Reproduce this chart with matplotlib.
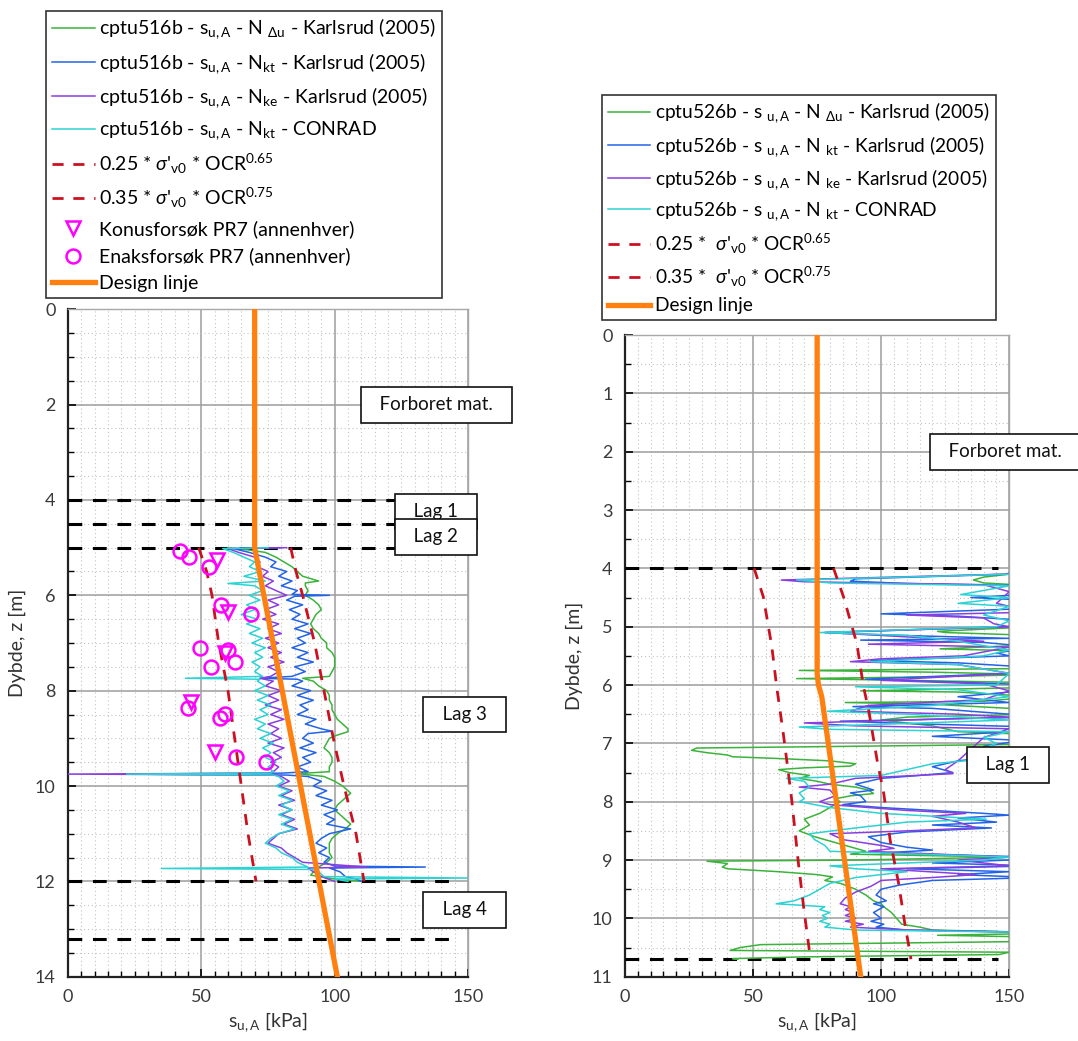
import numpy as np
import matplotlib
matplotlib.use('Agg')
import matplotlib.pyplot as plt

plt.rcParams['font.family'] = ['Lato', 'DejaVu Sans']
plt.rcParams['mathtext.fontset'] = 'custom'
plt.rcParams['mathtext.rm'] = 'Lato'
plt.rcParams['mathtext.it'] = 'Lato:italic'
plt.rcParams['mathtext.default'] = 'regular'

# ---------------- LEFT: cptu516b ----------------
L_green_z = [5.0, 5.05, 5.1, 5.2, 5.3, 5.4, 5.5, 5.6, 5.7, 5.74, 5.8, 5.9, 6.0, 6.1, 6.2, 6.3, 6.4, 6.5,
             6.6, 6.7, 6.8, 6.9, 7.0, 7.1, 7.2, 7.3, 7.4, 7.5, 7.6, 7.7, 7.74, 7.8, 7.9, 8.0, 8.1, 8.2,
             8.3, 8.4, 8.5, 8.6, 8.7, 8.8, 8.86, 8.95, 9.0, 9.1, 9.2, 9.3, 9.4, 9.5, 9.6, 9.7, 9.74,
             9.8, 9.9, 10.0, 10.1, 10.15, 10.2, 10.3, 10.4, 10.5, 10.6, 10.7, 10.8, 10.9, 11.0, 11.1,
             11.2, 11.3, 11.4, 11.5, 11.6, 11.7, 11.8, 11.87, 11.95, 12.0]
L_green_x = [60, 68, 74, 78, 81, 84, 86, 88, 94, 89, 89, 90, 89, 92, 94, 95, 93, 92,
             91, 92, 94, 95, 97, 97, 99, 100, 100, 100, 99, 98, 88, 92, 94, 97, 98, 98,
             99, 99, 100, 101, 103, 105, 105, 100, 98, 97, 96, 98, 99, 99, 98, 98, 86,
             96, 100, 103, 105, 106, 105, 103, 101, 100, 102, 104, 106, 104, 101, 99,
             98, 98, 98, 99, 97, 94, 92, 91, 100, 110]

L_blue_z = [5.0, 5.02, 5.1, 5.2, 5.3, 5.4, 5.5, 5.6, 5.7, 5.8, 5.9, 5.98, 6.0, 6.02, 6.1, 6.2, 6.3,
            6.4, 6.5, 6.6, 6.7, 6.8, 6.9, 7.0, 7.1, 7.2, 7.3, 7.4, 7.5, 7.6, 7.7, 7.74, 7.76, 7.8,
            7.9, 8.0, 8.1, 8.2, 8.3, 8.4, 8.5, 8.6, 8.7, 8.8, 8.85, 8.9, 9.0, 9.1, 9.2, 9.3, 9.4,
            9.5, 9.6, 9.7, 9.73, 9.75, 9.77, 9.8, 9.9, 10.0, 10.1, 10.2, 10.3, 10.4, 10.5, 10.6,
            10.7, 10.8, 10.9, 11.0, 11.1, 11.2, 11.3, 11.4, 11.5, 11.6, 11.68, 11.7, 11.72, 11.8,
            11.9, 11.95, 12.0]
L_blue_x = [80, 62, 68, 74, 78, 76, 82, 79, 84, 80, 86, 84, 98, 85, 82, 88, 83,
            87, 84, 90, 85, 91, 86, 89, 84, 90, 86, 92, 85, 89, 84, 72, 86, 88,
            84, 91, 86, 92, 87, 90, 86, 93, 89, 95, 99, 90, 88, 92, 87, 93, 88,
            91, 86, 90, 80, 20, 82, 90, 95, 92, 97, 93, 99, 95, 101, 96,
            100, 97, 106, 98, 95, 93, 97, 94, 98, 96, 100, 134, 98, 102,
            104, 108, 110]

L_purple_z = [5.0, 5.02, 5.1, 5.2, 5.3, 5.4, 5.5, 5.6, 5.7, 5.8, 5.9, 6.0, 6.1, 6.2, 6.3, 6.4,
              6.5, 6.6, 6.7, 6.8, 6.9, 7.0, 7.1, 7.2, 7.3, 7.4, 7.5, 7.6, 7.7, 7.74, 7.8, 7.9,
              8.0, 8.1, 8.2, 8.3, 8.4, 8.5, 8.6, 8.7, 8.8, 8.9, 9.0, 9.1, 9.2, 9.3, 9.4, 9.5,
              9.6, 9.7, 9.73, 9.75, 9.77, 9.8, 9.9, 10.0, 10.1, 10.2, 10.3, 10.4, 10.5, 10.6,
              10.7, 10.8, 10.9, 11.0, 11.1, 11.2, 11.3, 11.4, 11.5, 11.6, 11.7, 11.72, 11.8,
              11.9, 12.0]
L_purple_x = [82, 60, 64, 70, 72, 71, 75, 73, 77, 74, 78, 82, 75, 79, 74, 78,
              73, 79, 75, 80, 74, 79, 75, 80, 76, 81, 75, 79, 76, 72, 77, 74,
              80, 75, 79, 74, 80, 76, 81, 75, 79, 76, 80, 75, 81, 77, 80, 76,
              79, 77, 75, 0, 78, 80, 83, 79, 84, 80, 85, 79, 84, 80,
              85, 81, 86, 79, 77, 75, 80, 82, 85, 88, 112, 90, 92,
              95, 100]

L_cyan_z = [5.0, 5.02, 5.1, 5.2, 5.3, 5.4, 5.5, 5.6, 5.7, 5.75, 5.8, 5.9, 6.0, 6.1, 6.2, 6.3,
            6.4, 6.5, 6.6, 6.7, 6.8, 6.9, 7.0, 7.1, 7.2, 7.3, 7.4, 7.5, 7.6, 7.7, 7.74, 7.76,
            7.8, 7.9, 8.0, 8.1, 8.2, 8.3, 8.4, 8.5, 8.6, 8.7, 8.8, 8.9, 9.0, 9.1, 9.2, 9.3,
            9.4, 9.5, 9.6, 9.7, 9.73, 9.75, 9.77, 9.8, 9.9, 10.0, 10.1, 10.2, 10.3, 10.4, 10.5,
            10.6, 10.7, 10.8, 10.9, 11.0, 11.1, 11.2, 11.3, 11.4, 11.5, 11.6, 11.7, 11.73,
            11.75, 11.8, 11.9, 11.93, 11.95, 12.0]
L_cyan_x = [75, 58, 62, 66, 70, 68, 72, 66, 74, 60, 70, 73, 68, 72, 67, 70,
            65, 71, 67, 72, 68, 73, 69, 74, 70, 73, 69, 72, 70, 73, 44, 72,
            71, 74, 70, 75, 71, 76, 72, 75, 70, 74, 71, 76, 72, 77, 73, 76,
            74, 78, 75, 77, 76, 22, 77, 79, 81, 78, 83, 79, 84, 80, 84,
            79, 84, 80, 85, 79, 76, 74, 78, 80, 84, 86, 90, 35,
            92, 94, 96, 150, 100, 105]

L_r25_z = [5.0, 5.5, 6.0, 7.0, 8.0, 9.0, 10.0, 11.0, 12.0]
L_r25_x = [49, 52, 54, 56.5, 60, 62.5, 65, 67.5, 70.5]
L_r35_z = [5.0, 5.5, 6.0, 7.0, 8.0, 9.0, 10.0, 11.0, 12.0]
L_r35_x = [83.5, 85.5, 88, 92.5, 96, 99.5, 103.5, 108, 111]

L_design_z = [0, 5, 14]
L_design_x = [70, 70, 101]

L_kon_z = [5.26, 6.34, 7.22, 8.23, 9.28]
L_kon_x = [56, 60, 59, 46, 55]
L_enaks_z = [5.08, 5.19, 5.40, 6.20, 6.40, 7.11, 7.15, 7.39, 7.50, 8.37, 8.58, 8.48, 9.39, 9.49]
L_enaks_x = [42, 45.5, 53, 57.5, 68.8, 49.4, 60, 62.5, 53.8, 45, 57, 59, 63, 74.4]

L_layers = [4.0, 4.5, 5.0, 12.0, 13.2]

# ---------------- RIGHT: cptu526b ----------------
R_green_z = [4.0, 4.05, 4.15, 4.2, 4.25, 4.3, 4.4, 4.6, 4.8, 5.0, 5.08, 5.1, 5.15, 5.3, 5.38, 5.42,
             5.6, 5.72, 5.75, 5.78, 5.82, 5.86, 5.89, 5.92, 5.96, 6.05, 6.1, 6.12, 6.2, 6.28, 6.3,
             6.33, 6.4, 6.5, 6.55, 6.6, 6.7, 6.8, 6.85, 6.92, 6.98, 7.02, 7.08, 7.12, 7.16, 7.2,
             7.23, 7.26, 7.3, 7.35, 7.39, 7.42, 7.45, 7.5, 7.55, 7.6, 7.65, 7.7, 7.75, 7.8, 7.86,
             7.9, 7.95, 8.0, 8.1, 8.2, 8.3, 8.4, 8.5, 8.6, 8.7, 8.8, 8.85, 8.9, 8.95, 9.0, 9.02,
             9.06, 9.12, 9.15, 9.2, 9.25, 9.29, 9.35, 9.4, 9.5, 9.6, 9.7, 9.75, 9.8, 9.9, 10.0,
             10.1, 10.15, 10.2, 10.23, 10.26, 10.29, 10.32, 10.4, 10.45, 10.5, 10.55, 10.58,
             10.62, 10.66, 10.69, 10.7]
R_green_x = [170, 160, 140, 136, 140, 160, 175, 180, 170, 160, 122, 125, 160, 165, 123, 160,
             165, 150, 68, 120, 160, 120, 67, 110, 160, 150, 92, 130, 160, 140, 86,
             120, 150, 160, 110, 100, 120, 130, 160, 170, 160, 150, 28, 26, 32, 40,
             42, 60, 80, 90, 88, 70, 60, 64, 72, 68, 75, 80, 90, 95, 97,
             88, 82, 84, 80, 76, 70, 72, 68, 74, 82, 90, 94, 88, 150, 90, 32,
             40, 38, 40, 60, 75, 81, 78, 84, 90, 94, 97, 100, 101, 104, 106,
             108, 115, 120, 150, 160, 122, 160, 150, 53, 45, 41, 150,
             146, 70, 42, 44]

R_blue_z = [4.0, 4.1, 4.18, 4.22, 4.26, 4.3, 4.45, 4.5, 4.55, 4.7, 4.78, 4.82, 4.9, 5.0, 5.1, 5.14,
            5.2, 5.23, 5.27, 5.35, 5.45, 5.5, 5.58, 5.62, 5.7, 5.8, 5.9, 5.95, 6.0, 6.1, 6.2, 6.3,
            6.37, 6.4, 6.5, 6.55, 6.62, 6.66, 6.72, 6.8, 6.88, 6.95, 7.05, 7.15, 7.25, 7.3, 7.4,
            7.5, 7.55, 7.6, 7.7, 7.8, 7.85, 7.9, 8.0, 8.05, 8.1, 8.15, 8.2, 8.23, 8.28, 8.35,
            8.4, 8.45, 8.52, 8.6, 8.7, 8.78, 8.83, 8.88, 8.95, 9.0, 9.05, 9.1, 9.15, 9.2, 9.25,
            9.3, 9.35, 9.43, 9.5, 9.6, 9.7, 9.75, 9.8, 9.9, 10.0, 10.05, 10.1, 10.15, 10.2, 10.24]
R_blue_x = [160, 150, 90, 88, 110, 160, 155, 135, 160, 150, 100, 130, 160, 150, 78, 100,
            150, 92, 140, 160, 145, 150, 96, 130, 160, 150, 94, 130, 160, 155, 130, 150,
            89, 120, 150, 160, 84, 110, 160, 150, 120, 155, 140, 145, 140, 130, 120,
            128, 115, 100, 90, 97, 88, 92, 94, 85, 100, 120, 140, 150, 130, 145,
            120, 143, 110, 95, 100, 110, 120, 100, 160, 150, 120, 160, 110, 150, 130,
            160, 120, 107, 100, 98, 102, 97, 101, 97, 100, 96, 101, 98, 110, 160]

R_purple_z = [4.0, 4.1, 4.2, 4.23, 4.28, 4.4, 4.6, 4.75, 4.8, 4.85, 4.95, 5.0, 5.1, 5.15, 5.25, 5.3,
              5.35, 5.5, 5.55, 5.6, 5.65, 5.8, 5.92, 5.98, 6.1, 6.25, 6.35, 6.45, 6.5, 6.55, 6.65,
              6.7, 6.75, 6.9, 7.1, 7.3, 7.45, 7.52, 7.6, 7.7, 7.75, 7.8, 7.9, 8.0, 8.05, 8.15,
              8.2, 8.25, 8.35, 8.45, 8.5, 8.55, 8.65, 8.75, 8.8, 8.85, 8.95, 9.0, 9.1, 9.15,
              9.25, 9.3, 9.35, 9.45, 9.55, 9.65, 9.75, 9.8, 9.85, 9.9, 9.95, 10.0, 10.05, 10.1,
              10.15, 10.2, 10.24]
R_purple_x = [160, 148, 61, 70, 140, 150, 145, 160, 110, 140, 144, 150, 78, 100, 140, 95,
              150, 132, 100, 88, 130, 150, 100, 140, 150, 140, 95, 88, 130, 150, 70,
              90, 150, 140, 135, 130, 125, 128, 90, 80, 68, 80, 82, 76, 80, 110,
              133, 120, 130, 137, 110, 80, 85, 100, 105, 95, 150, 130, 150, 100,
              137, 120, 100, 96, 90, 86, 84, 88, 86, 89, 86, 90, 86, 93,
              88, 110, 160]

R_cyan_z = [4.0, 4.1, 4.2, 4.25, 4.3, 4.45, 4.5, 4.6, 4.65, 4.8, 4.9, 5.0, 5.1, 5.15, 5.25, 5.4,
            5.5, 5.6, 5.65, 5.8, 6.0, 6.03, 6.08, 6.2, 6.35, 6.45, 6.5, 6.6, 6.72, 6.76, 6.8,
            6.9, 7.0, 7.15, 7.25, 7.35, 7.45, 7.55, 7.6, 7.65, 7.75, 7.85, 7.95, 8.0, 8.1, 8.2,
            8.3, 8.35, 8.45, 8.55, 8.65, 8.75, 8.85, 8.95, 9.0, 9.1, 9.15, 9.2, 9.3, 9.4, 9.5,
            9.6, 9.7, 9.75, 9.8, 9.85, 9.9, 9.95, 10.0, 10.05, 10.1, 10.15, 10.2, 10.24]
R_cyan_x = [160, 150, 67, 80, 150, 131, 150, 130, 150, 140, 150, 145, 76, 110, 130, 150,
            140, 96, 130, 150, 145, 90, 130, 150, 120, 79, 110, 150, 68, 80, 150,
            140, 145, 136, 145, 120, 110, 100, 63, 70, 72, 68, 70, 68, 80, 100,
            141, 110, 90, 72, 74, 78, 80, 150, 140, 80, 90, 110, 90, 80, 76,
            72, 66, 59, 78, 76, 80, 77, 79, 76, 80, 78, 90, 160]

R_r25_z = [4.0, 4.49, 5.34, 6.03, 6.77, 7.52, 7.98, 9.06, 9.8, 10.6, 10.7]
R_r25_x = [50.4, 54, 57.3, 59.2, 61.6, 63.8, 65.1, 67.7, 69.7, 72.1, 72.4]
R_r35_z = [4.0, 4.49, 5.29, 6.03, 6.43, 7.29, 7.86, 8.66, 9.4, 10.14, 10.6, 10.7]
R_r35_x = [81.4, 85.3, 90.5, 93.1, 95.1, 98.4, 101, 103.5, 106.8, 109.4, 111.3, 111.6]

R_design_z = [0, 5.8, 6.0, 6.2, 11]
R_design_x = [75, 75, 75.5, 76.8, 92]

R_layers = [4.0, 10.7]

C_GREEN = '#3bb33b'
C_BLUE = '#2363e6'
C_PURPLE = '#8a3ee0'
C_CYAN = '#2cd3d3'
C_RED = '#cc1020'
C_ORANGE = '#ff7f0f'
C_MAG = '#ff00ff'

fig = plt.figure(figsize=(10.78, 10.41), dpi=100)
axL = fig.add_axes([68 / 1078, 1 - 976.7 / 1041, 400 / 1078, (976.7 - 309.3) / 1041])
axR = fig.add_axes([625 / 1078, 1 - 976.7 / 1041, 384.3 / 1078, (976.7 - 335) / 1041])


def style(ax, ymax, ymaj, ymin):
    ax.set_xlim(0, 150)
    ax.set_ylim(ymax, 0)
    ax.set_xticks([0, 50, 100, 150])
    ax.set_xticks(np.arange(0, 151, 5), minor=True)
    ax.set_yticks(np.arange(0, ymax + 0.01, ymaj))
    ax.set_yticks(np.arange(0, ymax + 0.01, ymin), minor=True)
    ax.grid(which='major', color='#9c9c9c', lw=1.1, zorder=0)
    ax.grid(which='minor', color='#c4c4c4', lw=0.8, ls=(0, (1, 2.5)), zorder=0)
    ax.set_axisbelow(True)
    ax.tick_params(which='both', direction='in', labelsize=13, labelcolor='#3a3a3a', pad=9)
    ax.tick_params(which='major', length=6, width=1.2)
    ax.tick_params(which='minor', length=4, width=1.0)
    for s in ['left', 'bottom']:
        ax.spines[s].set_linewidth(1.6)
        ax.spines[s].set_color('#222222')
    for s in ['top', 'right']:
        ax.spines[s].set_color('#a8a8a8')
        ax.spines[s].set_linewidth(1.0)
    ax.set_xlabel('s$_{u,A}$ [kPa]', fontsize=14, color='#333333', labelpad=4)
    ax.set_ylabel('Dybde, z [m]', fontsize=14, color='#333333', labelpad=6)


def tbox(ax, x, y, s, z=10):
    ax.text(x, y, s, ha='center', va='center', fontsize=13.5, color='#111111', zorder=z,
            clip_on=False,
            bbox=dict(boxstyle='square,pad=0.5', fc='white', ec='#111111', lw=1.2))


lab_sig = lambda c, e: '%s * $\\mathit{\\sigma}$\'$_{v0}$ * OCR$^{%s}$' % (c, e)

# ---- left panel ----
style(axL, 14, 2, 0.5)
for z in L_layers:
    axL.plot([0, 146], [z, z], color='black', lw=2.2, ls=(0, (4.5, 3.5)), zorder=3)
axL.plot(L_green_x, L_green_z, color=C_GREEN, lw=1.1, zorder=4,
         label='cptu516b - s$_{u,A}$ - N $_{\\Delta u}$ - Karlsrud (2005)')
axL.plot(L_blue_x, L_blue_z, color=C_BLUE, lw=1.1, zorder=4,
         label='cptu516b - s$_{u,A}$ - N$_{kt}$ - Karlsrud (2005)')
axL.plot(L_purple_x, L_purple_z, color=C_PURPLE, lw=1.1, zorder=4,
         label='cptu516b - s$_{u,A}$ - N$_{ke}$ - Karlsrud (2005)')
axL.plot(L_cyan_x, L_cyan_z, color=C_CYAN, lw=1.1, zorder=4,
         label='cptu516b - s$_{u,A}$ - N$_{kt}$ - CONRAD')
axL.plot(L_r25_x, L_r25_z, color=C_RED, lw=2.0, ls=(0, (4, 3.5)), zorder=5,
         label=lab_sig('0.25', '0.65'))
axL.plot(L_r35_x, L_r35_z, color=C_RED, lw=2.0, ls=(0, (4, 3.5)), zorder=5,
         label=lab_sig('0.35', '0.75'))
axL.plot(L_kon_x, L_kon_z, ls='none', marker='v', ms=10, mfc='none', mec=C_MAG, mew=1.8,
         zorder=6, label='Konusforsøk PR7 (annenhver)')
axL.plot(L_enaks_x, L_enaks_z, ls='none', marker='o', ms=10, mfc='none', mec=C_MAG, mew=1.8,
         zorder=6, label='Enaksforsøk PR7 (annenhver)')
axL.plot(L_design_x, L_design_z, color=C_ORANGE, lw=3.8, zorder=7, label='Design linje')

tbox(axL, 138, 2.0, '  Forboret mat.  ')
tbox(axL, 138, 4.24, '  Lag 1  ', z=10)
tbox(axL, 138, 4.77, '  Lag 2  ', z=11)
tbox(axL, 148.7, 8.5, '  Lag 3  ')
tbox(axL, 148.7, 12.6, '  Lag 4  ')

hL, lL = axL.get_legend_handles_labels()
legL = axL.legend(hL, lL, loc='upper left', bbox_to_anchor=(46 / 1078, 1 - 11 / 1041),
                  bbox_transform=fig.transFigure, fontsize=14, frameon=True, fancybox=False,
                  edgecolor='#333333', framealpha=1, handlelength=2.2, handletextpad=0.25,
                  labelspacing=0.5, borderpad=0.3, borderaxespad=0)
legL.get_frame().set_linewidth(1.2)

# ---- right panel ----
style(axR, 11, 1, 0.5)
for z in R_layers:
    axR.plot([0, 145.5], [z, z], color='black', lw=2.2, ls=(0, (4.5, 3.5)), zorder=3)
axR.plot(R_green_x, R_green_z, color=C_GREEN, lw=1.1, zorder=4,
         label='cptu526b - s $_{u,A}$ - N $_{\\Delta u}$ - Karlsrud (2005)')
axR.plot(R_blue_x, R_blue_z, color=C_BLUE, lw=1.1, zorder=4,
         label='cptu526b - s $_{u,A}$ - N $_{kt}$ - Karlsrud (2005)')
axR.plot(R_purple_x, R_purple_z, color=C_PURPLE, lw=1.1, zorder=4,
         label='cptu526b - s $_{u,A}$ - N $_{ke}$ - Karlsrud (2005)')
axR.plot(R_cyan_x, R_cyan_z, color=C_CYAN, lw=1.1, zorder=4,
         label='cptu526b - s $_{u,A}$ - N $_{kt}$ - CONRAD')
axR.plot(R_r25_x, R_r25_z, color=C_RED, lw=2.0, ls=(0, (4, 3.5)), zorder=5,
         label='0.25 *  $\\mathit{\\sigma}$\'$_{v0}$ * OCR$^{0.65}$')
axR.plot(R_r35_x, R_r35_z, color=C_RED, lw=2.0, ls=(0, (4, 3.5)), zorder=5,
         label='0.35 *  $\\mathit{\\sigma}$\'$_{v0}$ * OCR$^{0.75}$')
axR.plot(R_design_x, R_design_z, color=C_ORANGE, lw=3.8, zorder=7, label='Design linje')

tbox(axR, 148.5, 2.0, '  Forboret mat.  ')
tbox(axR, 149.5, 7.37, '  Lag 1  ')

hR, lR = axR.get_legend_handles_labels()
legR = axR.legend(hR, lR, loc='upper left', bbox_to_anchor=(602 / 1078, 1 - 95 / 1041),
                  bbox_transform=fig.transFigure, fontsize=13.8, frameon=True, fancybox=False,
                  edgecolor='#333333', framealpha=1, handlelength=2.2, handletextpad=0.25,
                  labelspacing=0.45, borderpad=0.3, borderaxespad=0)
legR.get_frame().set_linewidth(1.2)

fig.savefig('out.png', dpi=100)
